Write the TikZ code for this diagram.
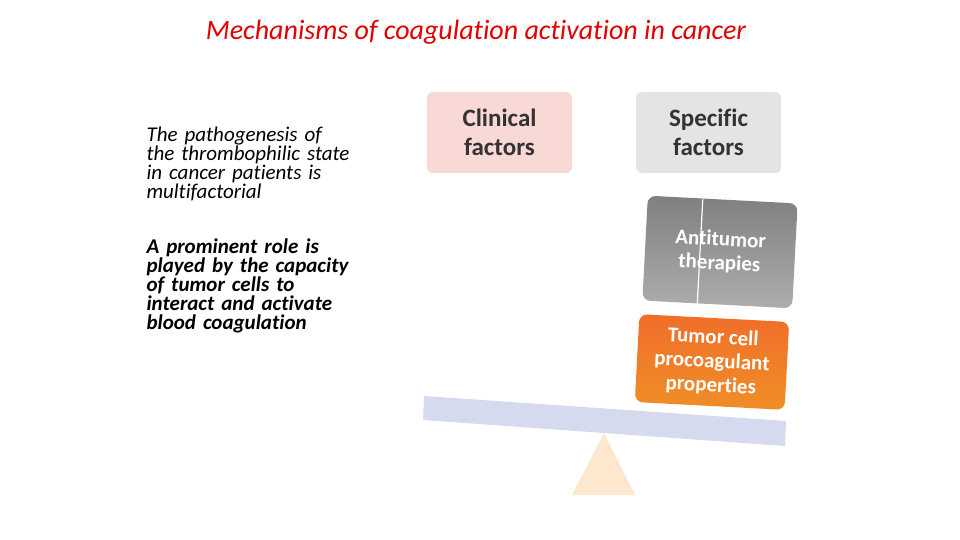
\documentclass[tikz,border=0pt]{standalone}
\usepackage{fontspec}
\setmainfont[Ligatures={NoCommon,NoRequired}]{Carlito}
\usetikzlibrary{positioning}
\definecolor{titlered}{HTML}{E00000}
\definecolor{pinkbox}{HTML}{F9D9D5}
\definecolor{graybox}{HTML}{E4E4E4}
\definecolor{beam}{HTML}{D5DAEE}
\definecolor{fulcrum}{HTML}{FDE8CF}
\definecolor{orangebox}{HTML}{EE7A2E}
\tikzset{
  factor/.style={rounded corners=6pt, minimum width=145pt, minimum height=81pt, align=center, font=\bfseries\fontsize{25}{29}\selectfont, text=black!80},
  weight/.style={rounded corners=8pt, minimum width=150pt, align=center, font=\bfseries\fontsize{21}{24}\selectfont, text=white, rotate=-3},
  note/.style={anchor=north west, align=left, text width=230pt, font=\itshape\fontsize{21}{19}\selectfont}
}
\begin{document}
\begin{tikzpicture}[x=1pt,y=-1pt]
  \useasboundingbox (0,0) rectangle (960,540);
  % title
  \node[text=titlered, font=\itshape\fontsize{28}{30}\selectfont] (title) at (476,32) {Mechanisms of coagulation activation in cancer};
  % left notes
  \node[note] (n1) at (143,123) {The pathogenesis of\\the thrombophilic state\\in cancer patients is\\multifactorial};
  \node[note, font=\bfseries\itshape\fontsize{21}{19}\selectfont] (n2) at (143,235) {A prominent role is\\played by the capacity\\of tumor cells to\\interact and activate\\blood coagulation};
  % factor labels
  \node[factor, fill=pinkbox] (clin) at (499.5,132.5) {Clinical\\factors};
  \node[factor, fill=graybox] (spec) at (708.5,132.5) {Specific\\factors};
  % balance
  \fill[fulcrum] (604,433) -- (635,495) -- (572,495) -- cycle;
  \fill[beam] (424,396) -- (786,421) -- (785,446) -- (423,420) -- cycle;
  % weights
  \node[weight, minimum height=105pt, top color=black!50, bottom color=black!32] (anti) at (720,252) {Antitumor\\therapies};
  \draw[white, line width=1.2pt] ([xshift=-20pt]anti.north) -- ([xshift=-20pt]anti.south);
  \node[weight, minimum height=88pt, top color=orangebox!90!red, bottom color=orangebox!85!yellow] (tumor) at (712,362) {Tumor cell\\procoagulant\\properties};
\end{tikzpicture}
\end{document}
